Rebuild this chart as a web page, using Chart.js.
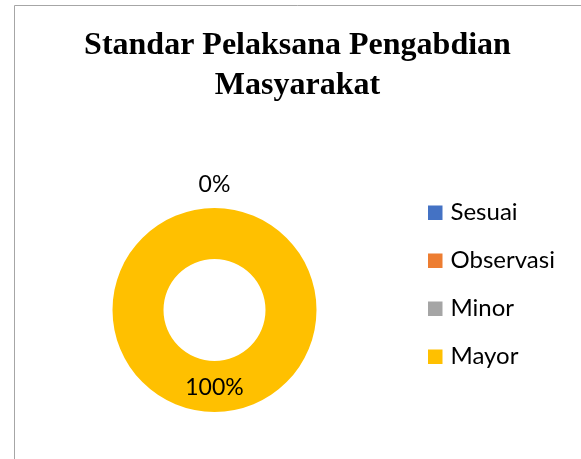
<!DOCTYPE html>
<html><head><meta charset="utf-8">
<script src="https://cdn.jsdelivr.net/npm/chart.js@4"></script>
<style>html,body{margin:0;padding:0;background:#fff}canvas{display:block}</style>
</head><body>
<canvas id="c" width="581" height="459"></canvas>
<script>
const titleLines = ['Standar Pelaksana Pengabdian', 'Masyarakat'];
const categories = ['Sesuai', 'Observasi', 'Minor', 'Mayor'];
const percentValues = [0, 0, 0, 100];
const sliceColors = ['#4472C4', '#ED7D31', '#A5A5A5', '#FFC000'];

const framePlugin = {
  id: 'frame',
  beforeDraw(chart) {
    const c = chart.ctx;
    c.save();
    c.fillStyle = '#fff';
    c.fillRect(0, 0, chart.width, chart.height);
    c.strokeStyle = '#a6a6a6';
    c.lineWidth = 1;
    c.beginPath();
    c.moveTo(14.5, chart.height);
    c.lineTo(14.5, 5.5);
    c.lineTo(chart.width, 5.5);
    c.stroke();
    c.restore();
  }
};

const sideLegendPlugin = {
  id: 'sideLegend',
  start(chart) {
    const box = {
      position: 'right', weight: 1000, fullSize: false, options: {display: true},
      isHorizontal() { return false; },
      update(maxWidth, maxHeight) { this.width = 166; this.height = maxHeight; },
      draw() {
        const ctx = chart.ctx;
        const labels = chart.data.labels;
        const colors = chart.data.datasets[0].backgroundColor;
        ctx.save();
        ctx.font = '24px Lato';
        ctx.textAlign = 'left';
        ctx.textBaseline = 'middle';
        labels.forEach((lab, i) => {
          const cy = this.top + 4.5 + i * 48;
          ctx.fillStyle = colors[i];
          ctx.fillRect(this.left + 25, cy - 7, 14.5, 14.5);
          ctx.fillStyle = '#000';
          ctx.fillText(lab, this.left + 47.5, cy);
        });
        ctx.restore();
      }
    };
    Chart.layouts.addBox(chart, box);
  }
};

const sliceLabelPlugin = {
  id: 'sliceLabels',
  afterDatasetsDraw(chart) {
    const ctx = chart.ctx;
    const meta = chart.getDatasetMeta(0);
    const values = chart.data.datasets[0].data;
    const seen = new Set();
    ctx.save();
    ctx.font = '23px Lato';
    ctx.fillStyle = '#000';
    ctx.textAlign = 'center';
    ctx.textBaseline = 'middle';
    meta.data.forEach((arc, i) => {
      const v = values[i];
      let x, y;
      if (v === 0) {
        const p = arc.getProps(['x', 'y', 'startAngle', 'endAngle', 'outerRadius']);
        const mid = (p.startAngle + p.endAngle) / 2;
        const r = p.outerRadius + 23;
        x = p.x + Math.cos(mid) * r;
        y = p.y + Math.sin(mid) * r;
      } else {
        const pos = arc.tooltipPosition();
        x = pos.x; y = pos.y + 1.5;
      }
      const key = Math.round(x) + ',' + Math.round(y) + ',' + v;
      if (seen.has(key)) return;
      seen.add(key);
      ctx.fillText(v + '%', x, y);
    });
    ctx.restore();
  }
};

new Chart(document.getElementById('c'), {
  type: 'doughnut',
  data: {
    labels: categories,
    datasets: [{
      data: percentValues,
      backgroundColor: sliceColors,
      borderWidth: 0,
      hoverOffset: 0,
      offset: 0
    }]
  },
  options: {
    responsive: false,
    animation: false,
    events: [],
    cutout: '50%',
    layout: {padding: {left: 26, right: 12, top: 0, bottom: 47}},
    plugins: {
      legend: {display: false},
      tooltip: {enabled: false},
      title: {
        display: true,
        text: titleLines,
        color: '#000',
        font: {family: "'Liberation Serif', 'Times New Roman', serif", size: 32, weight: 'bold', lineHeight: 1.25},
        padding: {top: 26, bottom: 102}
      }
    }
  },
  plugins: [framePlugin, sideLegendPlugin, sliceLabelPlugin]
});
</script>
</body></html>
